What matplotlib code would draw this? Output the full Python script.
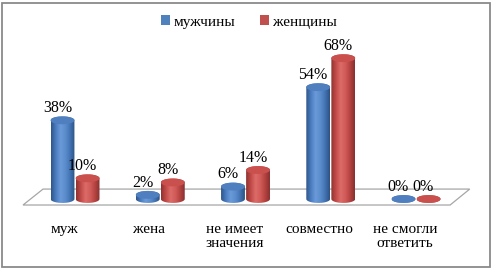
import numpy as np
import matplotlib
matplotlib.use("Agg")
import matplotlib.pyplot as plt
from matplotlib.path import Path
from matplotlib.patches import PathPatch, Patch, Rectangle, Polygon
from matplotlib.colors import LinearSegmentedColormap

categories = ["муж", "жена", "не имеет\nзначения", "совместно", "не смогли\nответить"]
men = [38, 2, 6, 54, 0]
women = [10, 8, 14, 68, 0]
series_names = ["мужчины", "женщины"]

plt.rcParams['font.family'] = ['Liberation Serif', 'DejaVu Serif']

W, H = 493, 269
fig = plt.figure(figsize=(W / 100, H / 100), dpi=100)
ax = fig.add_axes([0, 0, 1, 1])
ax.set_xlim(-0.88, 4.903)
ax.set_ylim(-33.8, 96.1)
ax.axis('off')

# floor (3D base)
floor = Polygon([(-0.61, -2.9), (4.40, -2.9), (4.63, 4.8), (-0.375, 4.8)],
                closed=True, facecolor='white', edgecolor='#a6a6a6', lw=0.9, zorder=1)
ax.add_patch(floor)

blue_cmap = LinearSegmentedColormap.from_list(
    'b', ['#2f5688', '#4a7cc0', '#6a9ad8', '#5b8ccc', '#4474b4', '#2c5283'])
red_cmap = LinearSegmentedColormap.from_list(
    'r', ['#8e3230', '#c24b48', '#dc6b68', '#d25b58', '#b54340', '#873030'])

bw = 0.28      # cylinder width (data units)
ry = 1.9       # ellipse vertical radius (data units)
off = 0.147


def cylinder(xc, v, cmap, topcolor, z):
    rx = bw / 2
    t1 = np.linspace(np.pi, 2 * np.pi, 40)   # lower half of bottom ellipse
    t2 = np.linspace(0, np.pi, 40)           # upper half of top ellipse
    xs = np.concatenate([xc + rx * np.cos(t1), xc + rx * np.cos(t2)])
    ys = np.concatenate([0 + ry * np.sin(t1), v + ry * np.sin(t2)])
    verts = np.column_stack([xs, ys])
    path = Path(np.vstack([verts, verts[:1]]),
                [Path.MOVETO] + [Path.LINETO] * (len(verts) - 1) + [Path.CLOSEPOLY])
    patch = PathPatch(path, facecolor='none', edgecolor='none', zorder=z)
    ax.add_patch(patch)
    grad = np.linspace(0, 1, 64).reshape(1, -1)
    im = ax.imshow(grad, cmap=cmap, aspect='auto',
                   extent=[xc - rx, xc + rx, -ry, v + ry], zorder=z, interpolation='bilinear')
    im.set_clip_path(patch)
    te = np.linspace(0, 2 * np.pi, 80)
    top = Polygon(np.column_stack([xc + rx * np.cos(te), v + ry * np.sin(te)]),
                  closed=True, facecolor=topcolor, edgecolor='none', zorder=z + 0.1)
    ax.add_patch(top)


for i in range(len(categories)):
    cylinder(i - off, men[i], blue_cmap, '#4f7fbf', 3)
    cylinder(i + off, women[i], red_cmap, '#c9504d', 3)
    ax.text(i - off - 0.06, men[i] + 4.0, f"{men[i]}%", ha='center', va='baseline',
            fontsize=11.5, color='black', zorder=5)
    ax.text(i + off - 0.06, women[i] + 4.0, f"{women[i]}%", ha='center', va='baseline',
            fontsize=11.5, color='black', zorder=5)
    ax.text(i - 0.13, -11.4, categories[i], ha='center', va='top', fontsize=11,
            linespacing=1.1, color='black')

# legend
handles = [Patch(facecolor='#4f81bd', edgecolor='none'),
           Patch(facecolor='#c0504d', edgecolor='none')]
fig.legend(handles, series_names, loc='center', bbox_to_anchor=(0.505, 0.918), ncol=2,
           frameon=False, fontsize=11, handlelength=0.6, handleheight=0.6,
           handletextpad=0.25, columnspacing=1.6)

# outer border
fig.add_artist(Rectangle((2 / W, 2 / H), 1 - 5 / W, 1 - 5 / H, transform=fig.transFigure,
                         fill=False, edgecolor='#8a8a8a', lw=1.3))

fig.savefig("out.png", dpi=100)
